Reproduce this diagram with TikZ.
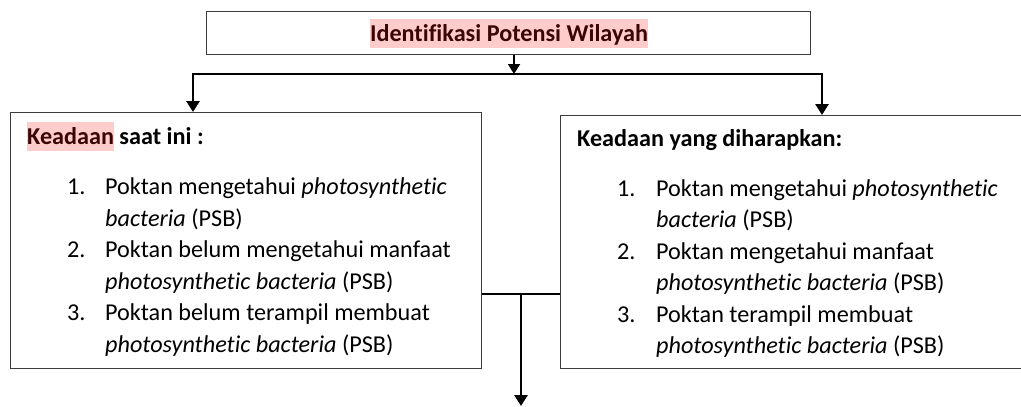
\documentclass[tikz,border=0pt]{standalone}
\usepackage{fontspec}
\setmainfont[Ligatures=NoCommon]{Carlito}
\usetikzlibrary{arrows.meta}
\definecolor{hl}{RGB}{255,204,204}
\definecolor{hltext}{RGB}{60,5,5}
\definecolor{boxline}{RGB}{60,60,60}
\newcommand\hlword[1]{{\setlength{\fboxsep}{0pt}\colorbox{hl}{\textcolor{hltext}{\rule[-7pt]{0pt}{29pt}#1}}}}
\begin{document}
\begin{tikzpicture}[x=1pt,y=-1pt,
  boxnode/.style={draw=boxline,line width=1.3pt,fill=white,anchor=north west,inner sep=0pt},
  txt/.style={anchor=base west,inner sep=0pt,font=\fontsize{24.2pt}{31.6pt}\selectfont},
  conn/.style={line width=2.8pt,-{Triangle[width=13pt,length=11pt]}},
  connthin/.style={line width=2pt,-{Triangle[width=12pt,length=10pt]}},
  plain/.style={line width=2.8pt}]
\useasboundingbox (0,0) rectangle (1021,407);
% boxes
\node[boxnode,minimum width=604pt,minimum height=43pt] (top) at (206,11) {};
\node[boxnode,minimum width=471pt,minimum height=256pt] (lbox) at (10,112) {};
\node[boxnode,minimum width=466pt,minimum height=253pt] (rbox) at (560,115) {};
% title
\node[txt,anchor=base] (title) at (509,41) {\bfseries\hlword{Identifikasi Potensi Wilayah}};
% left box text
\node[txt] (lh) at (27,144) {\bfseries\hlword{Keadaan} saat ini :};
\node[txt] (ln1) at (67,194.5) {1.};
\node[txt] (lt1) at (105,194.5) {Poktan mengetahui \textit{photosynthetic}};
\node[txt] (lt1b) at (105,226.1) {\textit{bacteria} (PSB)};
\node[txt] (ln2) at (67,257.7) {2.};
\node[txt] (lt2) at (105,257.7) {Poktan belum mengetahui manfaat};
\node[txt] (lt2b) at (105,289.3) {\textit{photosynthetic bacteria} (PSB)};
\node[txt] (ln3) at (67,320.9) {3.};
\node[txt] (lt3) at (105,320.9) {Poktan belum terampil membuat};
\node[txt] (lt3b) at (105,352.5) {\textit{photosynthetic bacteria} (PSB)};
% right box text
\node[txt] (rh) at (577,146.5) {\bfseries Keadaan yang diharapkan:};
\node[txt] (rn1) at (617,196) {1.};
\node[txt] (rt1) at (656,196) {Poktan mengetahui \textit{photosynthetic}};
\node[txt] (rt1b) at (656,227.5) {\textit{bacteria} (PSB)};
\node[txt] (rn2) at (617,259) {2.};
\node[txt] (rt2) at (656,259) {Poktan mengetahui manfaat};
\node[txt] (rt2b) at (656,290.5) {\textit{photosynthetic bacteria} (PSB)};
\node[txt] (rn3) at (617,322) {3.};
\node[txt] (rt3) at (656,322) {Poktan terampil membuat};
\node[txt] (rt3b) at (656,353.5) {\textit{photosynthetic bacteria} (PSB)};
% connectors
\coordinate (jt) at (514,74);
\coordinate (ltop) at (193,112);
\coordinate (rtop) at (822,115);
\coordinate (bj) at (521,294);
\coordinate (bend) at (521,406);
\draw[connthin] (top.south -| jt) -- (jt);
\draw[conn] (jt) -| (ltop);
\draw[conn] (jt) -| (rtop);
\draw[plain] (lbox.east |- bj) -- (rbox.west |- bj);
\draw[conn] (bj) -- (bend);
\end{tikzpicture}
\end{document}
